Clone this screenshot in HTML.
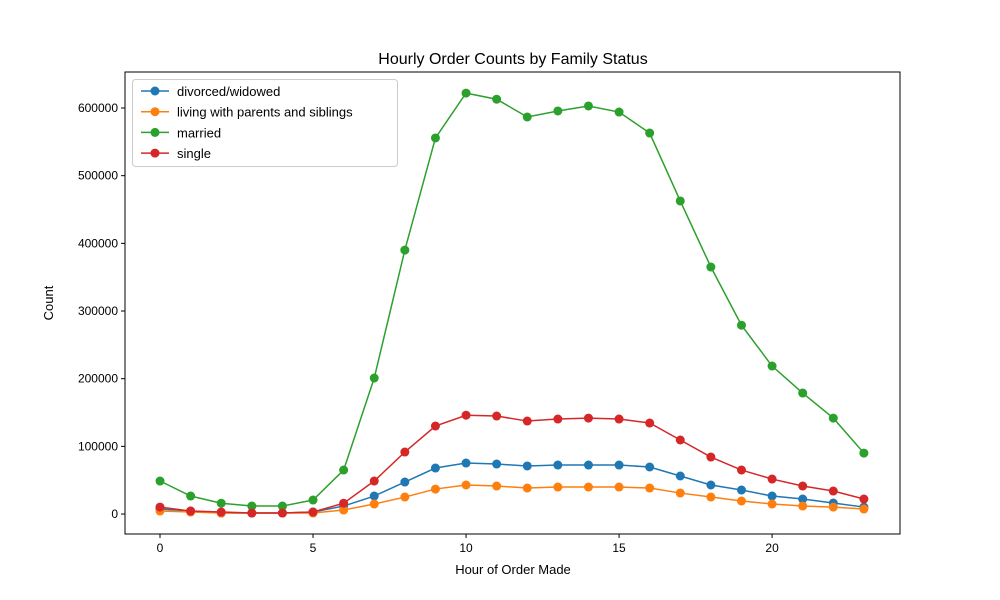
<!DOCTYPE html>
<html><head><meta charset="utf-8"><style>body{margin:0;background:#fff}svg{display:block;font-family:"Liberation Sans","DejaVu Sans",sans-serif}</style></head>
<body>
<svg id="c" width="1000" height="600"></svg>
<script>
const hours=[0,1,2,3,4,5,6,7,8,9,10,11,12,13,14,15,16,17,18,19,20,21,22,23];
const divorced=[7400,4400,1500,1500,1500,3000,11800,26600,47300,68000,75400,73900,71000,72400,72400,72400,69500,56200,42900,35500,26600,22200,16300,10300];
const parents=[4400,3000,1500,1500,1500,1500,5900,14800,25100,36900,42900,41400,38400,39900,39900,39900,38400,31000,25100,19200,14800,11800,10300,7400];
const married=[48800,26600,16000,11800,11800,20700,65000,201000,390000,555700,622000,613000,586700,595600,603000,594000,563000,462600,365000,279000,218700,178800,141800,90100];
const single=[10300,4400,3000,1500,1500,3000,16000,48800,91600,130000,146000,144800,137400,140400,141800,140400,134500,109400,84200,65000,51700,41400,34000,22200];
const seriesNames=["divorced/widowed","living with parents and siblings","married","single"];
const colors=["#1f77b4","#ff7f0e","#2ca02c","#d62728"];
const xTicks=[0,5,10,15,20];
const yTicks=[0,100000,200000,300000,400000,500000,600000];
const NS="http://www.w3.org/2000/svg",svg=document.getElementById('c');
const L=125,R=900,T=72,B=534,xmin=-1.144,xmax=24.18,ymin=-29500,ymax=653200;
const X=v=>L+(v-xmin)/(xmax-xmin)*(R-L), Y=v=>B-(v-ymin)/(ymax-ymin)*(B-T);
function el(t,a,txt){const e=document.createElementNS(NS,t);for(const k in a)e.setAttribute(k,a[k]);if(txt!=null)e.textContent=txt;svg.appendChild(e);return e;}
let e=el('text',{x:513,y:64,'text-anchor':'middle','font-size':16},'Hourly Order Counts by Family Status');


xTicks.forEach(t=>{el('line',{x1:X(t),x2:X(t),y1:B,y2:B+4,stroke:'#000'});
 e=el('text',{x:X(t),y:B+18,'text-anchor':'middle','font-size':12},t);
 
 });
yTicks.forEach(t=>{el('line',{x1:L-4,x2:L,y1:Y(t),y2:Y(t),stroke:'#000'});
 e=el('text',{x:L-7,y:Y(t)+4,'text-anchor':'end','font-size':12},t);
 
 });
e=el('text',{x:513,y:574,'text-anchor':'middle','font-size':13},'Hour of Order Made');


e=el('text',{x:0,y:0,'text-anchor':'middle','font-size':13,transform:'translate(53,303) rotate(-90)'},'Count');


[divorced,parents,married,single].forEach((s,i)=>{
 e=el('polyline',{points:s.map((v,j)=>X(hours[j])+','+Y(v)).join(' '),fill:'none',stroke:colors[i],'stroke-width':1.5});
 
 
 s.forEach((v,j)=>{e=el('circle',{cx:X(hours[j]),cy:Y(v),r:4.5,fill:colors[i]});
  
  });
});
e=el('rect',{x:L,y:T,width:R-L,height:B-T,fill:'none',stroke:'#000','stroke-width':1});


e=el('rect',{x:132.5,y:79.5,width:265,height:87,rx:3,fill:'#fff','fill-opacity':0.8,stroke:'#ccc'});


seriesNames.forEach((n,i)=>{const y=91+i*20.7;
 el('line',{x1:141,x2:169,y1:y,y2:y,stroke:colors[i],'stroke-width':1.5});
 el('circle',{cx:155,cy:y,r:4.5,fill:colors[i]});
 e=el('text',{x:177,y:y+5,'font-size':13},n);
 
 });
</script>
</body></html>
